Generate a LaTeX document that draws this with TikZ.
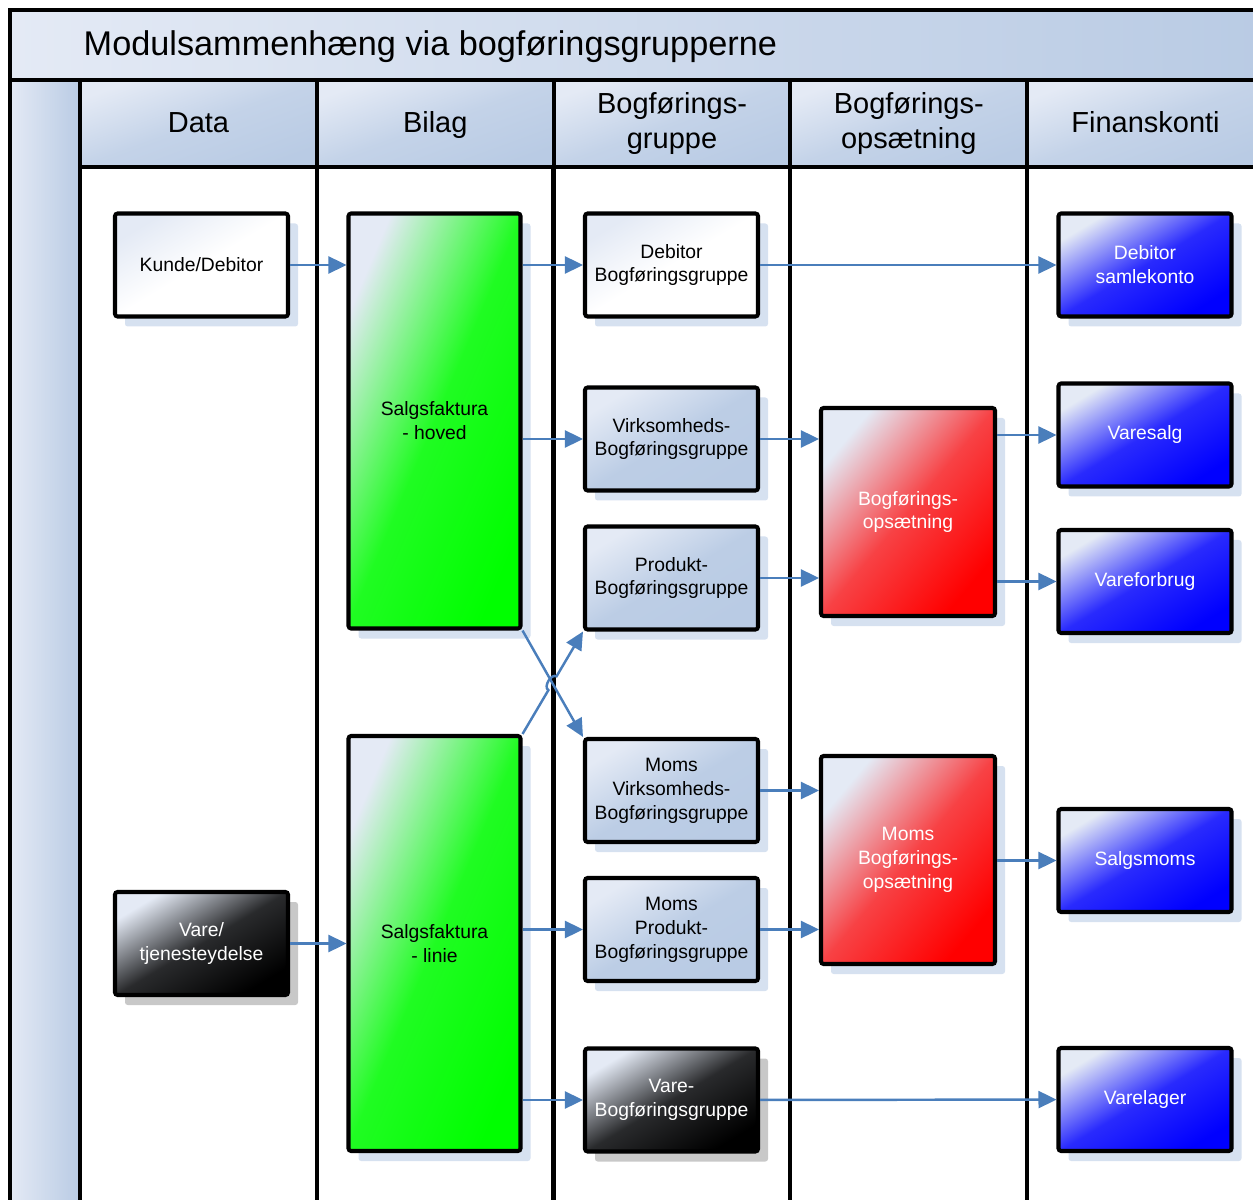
\documentclass[tikz,border=0pt]{standalone}
\usepackage{fontspec}
\setmainfont{Liberation Sans}
\usetikzlibrary{arrows.meta, shadows, calc}

\definecolor{laneblue}{RGB}{185,203,228}
\definecolor{paleblue}{RGB}{228,234,245}
\definecolor{shadowblue}{RGB}{214,225,240}
\definecolor{shadowgrey}{RGB}{200,200,200}
\definecolor{flowblue}{RGB}{74,126,187}

\begin{document}
\begin{tikzpicture}[
    frame/.style={draw=black, line width=2.3pt},
    titlebar/.style={frame, left color=paleblue, right color=laneblue, minimum width=25.08cm, minimum height=1.4cm, inner sep=0pt},
    lanehead/.style={frame, top color=paleblue, bottom color=laneblue, middle color=laneblue!75!paleblue, shading angle=20, minimum width=4.735cm, minimum height=1.74cm, align=center, font=\fontsize{16.5}{20.4}\selectfont},
    oneline/.style={text height=12.8pt, text depth=2pt},
    box/.style={rectangle, rounded corners=1.5pt, draw=black, line width=2.3pt, minimum width=3.46cm, minimum height=2.06cm, align=center, font=\fontsize{11}{13.6}\selectfont},
    boxshadow/.style={general shadow={fill=#1, shadow xshift=0.2cm, shadow yshift=-0.2cm}},
    plain/.style={box, boxshadow=shadowblue, top color=paleblue, bottom color=white, middle color=white, shading angle=31},
    group/.style={box, boxshadow=shadowblue, top color=paleblue, bottom color=laneblue, middle color=laneblue!92!paleblue, shading angle=31},
    voucher/.style={box, boxshadow=shadowblue, minimum width=3.44cm, minimum height=8.3cm, top color=paleblue, bottom color=green, middle color=green!86!paleblue, shading angle=67},
    postsetup/.style={box, boxshadow=shadowblue, minimum width=3.48cm, minimum height=4.16cm, top color=paleblue, bottom color=red, middle color=red!72!paleblue, shading angle=50, text=white},
    account/.style={box, boxshadow=shadowblue, top color=paleblue, bottom color=blue, middle color=blue!82!paleblue, shading angle=31, text=white},
    item/.style={box, boxshadow=shadowgrey, top color=paleblue, bottom color=black, middle color=black!82!paleblue, shading angle=31, text=white},
    flow/.style={draw=flowblue, line width=1.4pt, -{Triangle[length=0.36cm, width=0.34cm]}}
]
    \clip (0,0) rectangle (25.06,-24);

    % Pool with title
    \node[titlebar] (pool) at (12.74,-0.9) {};
    \node[anchor=west, font=\fontsize{19.5}{24}\selectfont] (title) at (1.55,-0.94) {Modulsammenhæng via bogføringsgrupperne};
    \draw[frame, left color=paleblue, right color=laneblue] (0.2,-1.6) rectangle (1.6,-24.5);

    % Lanes
    \node[lanehead, oneline] (hdata) at (3.97,-2.47) {Data};
    \node[lanehead, oneline] (hbilag) at (8.705,-2.47) {Bilag};
    \node[lanehead] (hgruppe) at (13.44,-2.47) {Bogførings-\\gruppe};
    \node[lanehead] (hopsaet) at (18.175,-2.47) {Bogførings-\\opsætning};
    \node[lanehead, oneline] (hkonti) at (22.91,-2.47) {Finanskonti};
    \foreach \x in {1.6, 6.335, 11.07, 15.805, 20.54, 25.275}
        \draw[frame] (\x,-3.34) -- (\x,-24.5);

    % Data
    \node[plain] (kunde) at (4.03,-5.3) {Kunde/Debitor};
    \node[item] (vare) at (4.03,-18.87) {Vare/\\tjenesteydelse};

    % Bilag
    \node[voucher] (hoved) at (8.69,-8.42) {Salgsfaktura\\- hoved};
    \node[voucher] (linie) at (8.69,-18.87) {Salgsfaktura\\- linie};

    % Bogfoeringsgrupper
    \node[plain] (debgrp) at (13.43,-5.3) {Debitor\\Bogføringsgruppe};
    \node[group] (virkgrp) at (13.43,-8.78) {Virksomheds-\\Bogføringsgruppe};
    \node[group] (prodgrp) at (13.43,-11.56) {Produkt-\\Bogføringsgruppe};
    \node[group] (mvirkgrp) at (13.43,-15.81) {Moms\\Virksomheds-\\Bogføringsgruppe};
    \node[group] (mprodgrp) at (13.43,-18.59) {Moms\\Produkt-\\Bogføringsgruppe};
    \node[item] (varegrp) at (13.43,-22.0) {Vare-\\Bogføringsgruppe};

    % Bogfoeringsopsaetning
    \node[postsetup] (opsaet) at (18.16,-10.24) {Bogførings-\\opsætning};
    \node[postsetup] (momsopsaet) at (18.16,-17.2) {Moms\\Bogførings-\\opsætning};

    % Finanskonti
    \node[account] (samlekonto) at (22.9,-5.3) {Debitor\\samlekonto};
    \node[account] (varesalg) at (22.9,-8.7) {Varesalg};
    \node[account] (vareforbrug) at (22.9,-11.63) {Vareforbrug};
    \node[account] (salgsmoms) at (22.9,-17.21) {Salgsmoms};
    \node[account] (varelager) at (22.9,-21.99) {Varelager};

    % Flows
    \draw[flow] (kunde) -- (kunde -| hoved.west);
    \draw[flow] (vare) -- (vare -| linie.west);
    \draw[flow] (hoved.east |- debgrp) -- (debgrp);
    \draw[flow] (hoved.east |- virkgrp) -- (virkgrp);
    \draw[flow] (linie.east |- mprodgrp) -- (mprodgrp);
    \draw[flow] (linie.east |- varegrp) -- (varegrp);
    \draw[flow] (debgrp) -- (samlekonto);
    \draw[flow] (varegrp) -- (varelager);
    \draw[flow] (virkgrp) -- (virkgrp -| opsaet.west);
    \draw[flow] (prodgrp) -- (prodgrp -| opsaet.west);
    \draw[flow] (mvirkgrp) -- (mvirkgrp -| momsopsaet.west);
    \draw[flow] (mprodgrp) -- (mprodgrp -| momsopsaet.west);
    \draw[flow] (opsaet.east |- varesalg) -- (varesalg);
    \draw[flow] (opsaet.east |- vareforbrug) -- (vareforbrug);
    \draw[flow] (momsopsaet.east |- salgsmoms) -- (salgsmoms);

    % crossing with line jump
    \coordinate (cross) at (intersection of hoved.south east--mvirkgrp.north west and linie.north east--prodgrp.south west);
    \draw[flow] (hoved.south east) -- (mvirkgrp.north west);
    \draw[flow] (linie.north east) -- ($(cross)!0.16cm!(linie.north east)$)
        to[bend left=90] ($(cross)!0.16cm!(prodgrp.south west)$) -- (prodgrp.south west);
\end{tikzpicture}
\end{document}
